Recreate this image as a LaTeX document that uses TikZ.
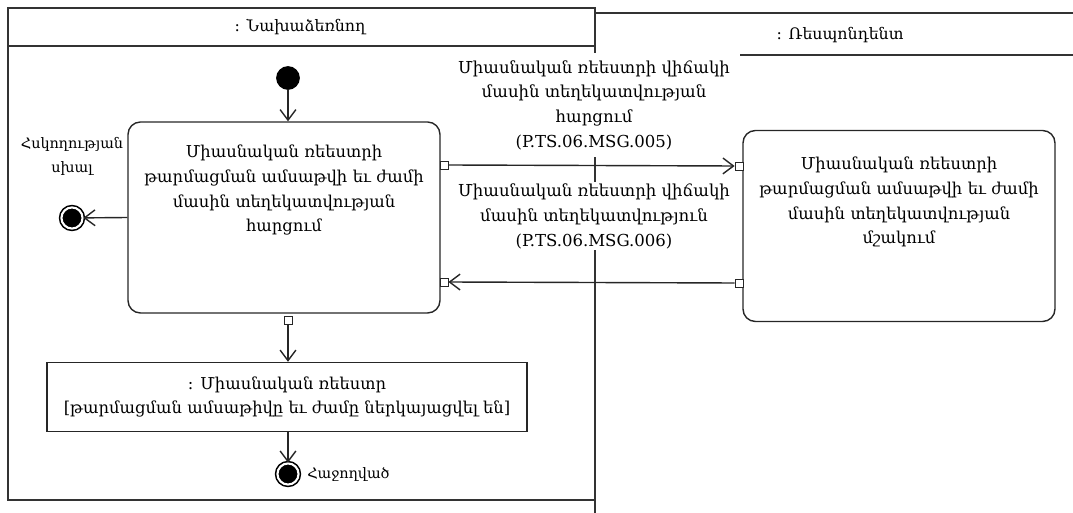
\documentclass[tikz,border=0pt]{standalone}
\usepackage{fontspec}
\setmainfont{DejaVu Serif}
\usetikzlibrary{arrows.meta,positioning,shapes}
\tikzset{
	>={Straight Barb[length=6pt,width=9pt]},
	action/.style={
		rectangle,
		rounded corners=7pt,
		draw=black!85, thick,
		minimum width=6.24cm,
		minimum height=3.82cm},
	acttext/.style={
		text width=6.1cm,
		align=center,
		inner sep=0pt,
		font=\fontsize{9.3}{14.2}\selectfont},
	objnode/.style={
		rectangle,
		draw=black!85, thick,
		minimum width=9.6cm,
		minimum height=1.38cm,
		align=center,
		font=\fontsize{9.3}{14.2}\selectfont},
	portbox/.style={rectangle, draw=black!85, fill=white, thin,
		minimum size=4.6pt, inner sep=0pt},
	startst/.style={circle, fill=black, minimum size=13.5pt, inner sep=0pt},
	finalst/.style={circle, fill=black, draw=black, line width=0.9pt,
		double=white, double distance=1.2pt, minimum size=12pt, inner sep=0pt},
	flow/.style={->, thick, draw=black!85},
	msglabel/.style={fill=white, align=center, inner sep=1pt,
		font=\fontsize{9.4}{14}\selectfont},
	lanehead/.style={font=\fontsize{9}{11}\selectfont},
	smalllbl/.style={align=center, font=\fontsize{8.2}{14}\selectfont},
	lane/.style={draw=black!80, thick},
}

\begin{document}
\begin{tikzpicture}[x=0.02cm, y=-0.02cm]
\useasboundingbox (0,0) rectangle (1073,513);

% swimlanes
\draw[lane] (8,8) rectangle (595,500);
\draw[lane] (8,46) -- (595,46);
\draw[lane] (595,13) -- (1073,13);
\draw[lane] (595,55) -- (1073,55);
\draw[lane] (595,8) -- (595,513);
\node[lanehead] (laneInit) at (300,27) {: Նախաձեռնող};
\node[lanehead] (laneResp) at (840,35) {: Ռեսպոնդենտ};

% initiator
\node[startst] (start) at (288,78) {};
\node[action] (actReq) at (284,217.5) {};
\node[acttext, below=13pt of actReq.north] (actReqTxt)
	{Միասնական ռեեստրի\\ թարմացման ամսաթվի եւ ժամի\\ մասին տեղեկատվության\\ հարցում};
\node[finalst] (errFin) at (72,218) {};
\node[smalllbl, above=14pt of errFin] (errLbl) {Հսկողության\\ սխալ};
\node[portbox] (reqOut) at (444,165) {};
\node[portbox] (reqIn) at (444,282) {};
\node[portbox] (reqDown) at (288,320) {};
\node[objnode] (regObj) at (287,397) {: Միասնական ռեեստր\\ {[թարմացման ամսաթիվը եւ ժամը ներկայացվել են]}};
\node[finalst] (okFin) at (288,474) {};
\node[smalllbl, right=1pt of okFin] (okLbl) {Հաջողված};

% respondent
\node[action] (actProc) at (899,226) {};
\node[acttext, below=15pt of actProc.north] (actProcTxt)
	{Միասնական ռեեստրի\\ թարմացման ամսաթվի եւ ժամի\\ մասին տեղեկատվության\\ մշակում};
\node[portbox] (procIn) at (739,166) {};
\node[portbox] (procOut) at (739,283) {};

% messages
\node[msglabel, anchor=south, inner ysep=4pt, inner xsep=6pt] (msgReq) at (594,157)
	{Միասնական ռեեստրի վիճակի\\ մասին տեղեկատվության\\ հարցում\\ (P.TS.06.MSG.005)};
\node[msglabel, anchor=north] (msgResp) at (594,182)
	{Միասնական ռեեստրի վիճակի\\ մասին տեղեկատվություն\\ (P.TS.06.MSG.006)};

\draw[flow] (start) -- (start |- actReq.north);
\draw[flow] (actReq.west) -- (errFin);
\draw[flow] (reqOut.east) -- (procIn.west);
\draw[flow] (procOut.west) -- (reqIn.east);
\draw[flow] (reqDown.south) -- (reqDown |- regObj.north);
\draw[flow] (okFin |- regObj.south) -- (okFin);
\end{tikzpicture}
\end{document}
